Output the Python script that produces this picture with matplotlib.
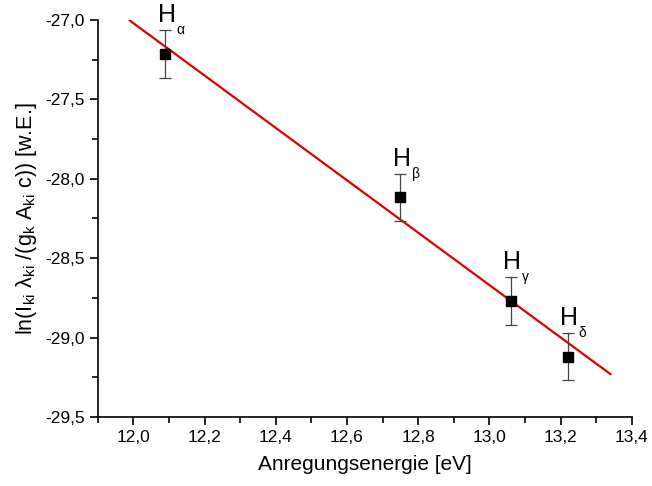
import matplotlib
matplotlib.use("Agg")
import matplotlib.pyplot as plt
from matplotlib.ticker import MultipleLocator, FuncFormatter

plt.rcParams['font.family'] = ['Liberation Sans', 'DejaVu Sans']
plt.rcParams['mathtext.fontset'] = 'custom'
plt.rcParams['mathtext.rm'] = 'Liberation Sans'
plt.rcParams['mathtext.it'] = 'Liberation Sans'

# data
energy = [12.09, 12.75, 13.06, 13.22]
ln_val = [-27.214, -28.118, -28.77, -29.12]
err = [0.15, 0.15, 0.15, 0.15]
names = ['α', 'β', 'γ', 'δ']

# fitted line endpoints
fit_x = [11.99, 13.34]
fit_y = [-27.004, -29.23]

fig = plt.figure(figsize=(6.52, 4.86), dpi=100)
ax = fig.add_axes([0.150, 0.142, 0.819, 0.817])

ax.plot(fit_x, fit_y, color='#e00000', lw=1.6, zorder=2)
ax.errorbar(energy, ln_val, yerr=err, fmt='s', color='black', ms=7,
            ecolor='#444444', elinewidth=0.9, capsize=4, capthick=0.9, zorder=3)

for x, y, e, n in zip(energy, ln_val, err, names):
    ax.annotate('H', (x, y + e), xytext=(1, 2), textcoords='offset points',
                ha='center', va='bottom', fontsize=18, annotation_clip=False)
    ax.annotate(n, (x, y + e), xytext=(8, -5),
                textcoords='offset points', ha='left', va='bottom', fontsize=10,
                annotation_clip=False)

ax.set_xlim(11.9, 13.4)
ax.set_ylim(-29.5, -27.0)
ax.xaxis.set_major_locator(MultipleLocator(0.2))
ax.xaxis.set_minor_locator(MultipleLocator(0.1))
ax.yaxis.set_major_locator(MultipleLocator(0.5))
ax.yaxis.set_minor_locator(MultipleLocator(0.25))
fmt = FuncFormatter(lambda v, p: f'{v:.1f}'.replace('.', ','))
ax.xaxis.set_major_formatter(fmt)
ax.yaxis.set_major_formatter(fmt)

for s in ['top', 'right']:
    ax.spines[s].set_visible(False)
for s in ['left', 'bottom']:
    ax.spines[s].set_linewidth(1.2)
ax.tick_params(which='major', direction='out', length=6, width=1.2, labelsize=12.5)
ax.tick_params(which='minor', direction='out', length=4, width=1.2)

ax.set_xlabel('Anregungsenergie [eV]', fontsize=15, labelpad=7)
ax.set_ylabel(r'ln(I$_{\mathregular{ki}}$ λ$_{\mathregular{ki}}$ /(g$_{\mathregular{k}}$ A$_{\mathregular{ki}}$ c)) [w.E.]',
              fontsize=15.5, labelpad=4)

fig.savefig('out.png', dpi=100)
